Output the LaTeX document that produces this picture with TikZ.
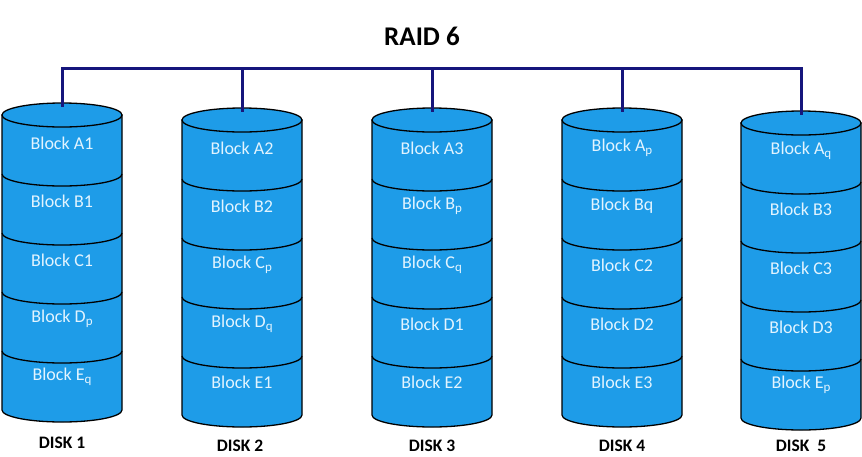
\documentclass[tikz,border=0pt]{standalone}
\usepackage{fontspec}
\setmainfont{Carlito}
\usepackage{tikz}

\definecolor{diskblue}{HTML}{1E9CE8}
\definecolor{busnavy}{HTML}{16167C}
\definecolor{labelwhite}{HTML}{E2F4FF}
\newcommand{\blksub}[1]{\raisebox{-0.35ex}{\fontsize{13}{13}\selectfont #1}}

\begin{document}
\begin{tikzpicture}[
            x=1pt,
            y=-1pt,
            disk/.style={fill=diskblue, draw=black, line width=1.3pt},
            rim/.style={draw=black, line width=1.3pt},
            bus/.style={draw=busnavy, line width=3pt},
            blocklabel/.style={text=labelwhite, font=\fontsize{18}{20}\selectfont},
            disklabel/.style={font=\bfseries\fontsize{17.5}{20}\selectfont},
          ]
          \useasboundingbox (0,0) rectangle (862,456);
          \node[font=\bfseries\fontsize{27}{30}\selectfont] (title) at (422,36) {RAID 6};
          \coordinate (busL) at (62,68);
          \coordinate (busR) at (801,68);
          \foreach \n/\cx/\cy/\a/\b/\c/\d/\e in {
              1/62/115/A1/B1/C1/D\blksub{p}/E\blksub{q},
              2/242/120/A2/B2/C\blksub{p}/D\blksub{q}/E1,
              3/432/120/A3/B\blksub{p}/C\blksub{q}/D1/E2,
              4/622/120/A\blksub{p}/Bq/C2/D2/E3,
              5/801/123/A\blksub{q}/B3/C3/D3/E\blksub{p}} {
            % body of the disk
            \path[disk] (\cx-60,\cy) -- (\cx-60,\cy+295)
              arc[start angle=180, end angle=360, x radius=60pt, y radius=12pt]
              -- (\cx+60,\cy) -- cycle;
            \path[disk] (\cx,\cy) ellipse[x radius=60pt, y radius=12pt];
            \foreach \k in {1,...,4} {
              \draw[rim] (\cx-60,\cy+59*\k)
                arc[start angle=180, end angle=360, x radius=60pt, y radius=12pt];
            }
            \coordinate (top\n) at (\cx,\cy-8);
            \node[blocklabel] (blk\n a) at (\cx,\cy+28) {Block \a};
            \node[blocklabel] (blk\n b) at (\cx,\cy+86) {Block \b};
            \node[blocklabel] (blk\n c) at (\cx,\cy+145) {Block \c};
            \node[blocklabel] (blk\n d) at (\cx,\cy+204) {Block \d};
            \node[blocklabel] (blk\n e) at (\cx,\cy+262) {Block \e};
          }
          \draw[bus, line cap=rect] (busL) -- (busR);
          \foreach \n in {1,...,5} {
            \draw[bus] (top\n |- busL) -- (top\n);
          }
          \node[disklabel] (lbl1) at (62,443) {DISK 1};
          \node[disklabel] (lbl2) at (240,446) {DISK 2};
          \node[disklabel] (lbl3) at (432,446) {DISK 3};
          \node[disklabel] (lbl4) at (622,446) {DISK 4};
          \node[disklabel] (lbl5) at (801,446) {DISK\ \ 5};
        \end{tikzpicture}
\end{document}
